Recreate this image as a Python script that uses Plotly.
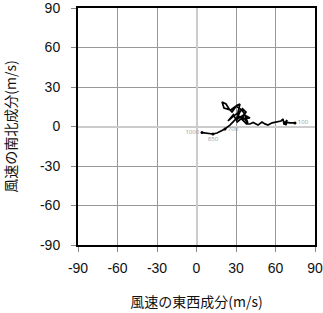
import plotly.graph_objects as go

u_wind = [4.2, 12.5, 15.6, 21.6, 25.4, 28.5, 31.5, 36.0, 39.0, 36.5, 34.5, 30.0, 26.0, 20.9, 19.4,
          22.4, 25.0, 27.0, 30.5, 33.0, 31.0, 35.0, 37.6, 34.0, 40.6, 36.0, 30.0, 33.5, 27.0,
          23.9, 28.0, 31.0, 34.0, 38.0, 40.6, 43.0, 46.7, 49.7, 52.0, 54.3, 57.5, 60.4, 64.2,
          65.7, 66.5, 68.7, 68.0, 66.0, 71.0, 74.8]
v_wind = [-4.6, -5.7, -4.9, -1.9, 1.1, 4.2, 8.0, 6.5, 2.7, 9.5, 12.5, 15.6, 12.5, 14.0, 18.6,
          17.1, 13.0, 11.0, 16.0, 17.0, 8.5, 13.5, 11.0, 5.5, 6.5, 9.0, 4.9, 12.0, 7.0,
          4.2, 9.0, 3.5, 6.0, 2.0, 1.9, 3.0, 1.1, 3.4, 2.0, 1.1, 2.8, 3.4, 4.2,
          5.7, 1.5, 4.9, 1.1, 3.5, 2.7, 2.7]
level_labels = ["1000", "850", "700", "100"]
level_index = [0, 1, 3, 49]
ticks = [-90, -60, -30, 0, 30, 60, 90]
tick_labels = ["-90", "-60", "-30", "0", "30", "60", "90"]

fig = go.Figure()
fig.add_trace(go.Scatter(x=u_wind, y=v_wind, mode="lines", line=dict(color="black", width=1.7),
                         showlegend=False, hoverinfo="skip"))
fig.add_trace(go.Scatter(x=[u_wind[i] for i in level_index], y=[v_wind[i] for i in level_index],
                         mode="markers+text", text=level_labels,
                         textposition=["middle left", "bottom center", "middle right", "middle right"],
                         textfont=dict(size=6, color="#999"),
                         marker=dict(color="black", size=3), showlegend=False, hoverinfo="skip"))

axis_common = dict(range=[-90, 90], tickvals=ticks, ticktext=tick_labels, ticks="outside",
                   ticklen=5, tickcolor="#888", automargin=False, ticklabeloverflow="allow",
                   showline=True, linecolor="black", linewidth=2, mirror=True,
                   showgrid=True, gridcolor="#999", gridwidth=1,
                   zeroline=True, zerolinecolor="#ccc", zerolinewidth=1.5,
                   tickfont=dict(family="Liberation Sans, Arial", size=14, color="#111"),
                   fixedrange=True)

fig.update_layout(
    width=323, height=313,
    margin=dict(l=78, r=8, t=8, b=68),
    paper_bgcolor="white", plot_bgcolor="white",
    xaxis=dict(**axis_common, ticklabelstandoff=4,
               title=dict(text="風速の東西成分(m/s)", standoff=22,
                          font=dict(family="Noto Sans CJK JP", size=14, color="#111"))),
    yaxis=dict(**axis_common, ticklabelstandoff=8,
               title=dict(text="風速の南北成分(m/s)", standoff=20,
                          font=dict(family="Noto Sans CJK JP", size=14, color="#111"))),
)
fig.write_html("out.html")
